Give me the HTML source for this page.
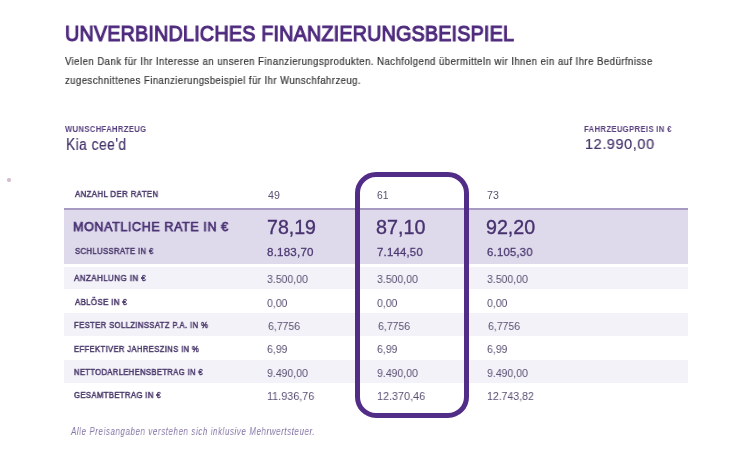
<!DOCTYPE html>
<html><head><meta charset="utf-8">
<style>
html,body{margin:0;padding:0;background:#fff;width:754px;height:468px;overflow:hidden;position:relative;font-family:"Liberation Sans",sans-serif;}
.t{position:absolute;white-space:nowrap;transform-origin:0 0;line-height:1;will-change:transform;}
.title{font-size:22.6px;color:#4f2b7e;font-weight:normal;-webkit-text-stroke:1.15px #4f2b7e;letter-spacing:0.2px;}
.body{font-size:10.2px;color:#363636;letter-spacing:0.5px;-webkit-text-stroke:0.2px #363636;}
.lab{font-size:8.4px;color:#58407f;font-weight:bold;letter-spacing:0.4px;}
.big{font-size:15.6px;color:#44346b;-webkit-text-stroke:0.2px #44346b;letter-spacing:0.6px;}
.price{font-size:14.8px;}
.row{position:absolute;left:64px;width:624px;}
.tl{font-size:8.6px;color:#4b3b6c;font-weight:normal;-webkit-text-stroke:0.5px #4b3b6c;letter-spacing:0.45px;}
.mon{font-size:13.6px;color:#4a3474;font-weight:normal;-webkit-text-stroke:0.75px #4a3474;letter-spacing:0.6px;}
.v{font-size:11.6px;color:#594f72;}
.bv{font-size:19.5px;color:#47326f;-webkit-text-stroke:0.35px #47326f;}
.sv{font-size:11.4px;color:#4b3a70;font-weight:normal;-webkit-text-stroke:0.28px #4b3a70;letter-spacing:0.2px;}
.hv{font-size:10px;color:#5a5072;}
.box{position:absolute;left:355px;top:172px;width:114px;height:246px;box-sizing:border-box;border:5px solid #522d88;border-radius:21px;}
.foot{font-size:10.2px;color:#8676a6;font-style:italic;letter-spacing:0.75px;}
</style></head><body>
<div style="position:absolute;left:7px;top:178px;width:4px;height:4px;border-radius:50%;background:#d3c0cf;box-shadow:0 0 1px #e0d0dc;"></div>
<div class="row" style="top:208px;height:2px;background:#a89bc1;"></div>
<div class="row" style="top:210px;height:54px;background:#dfd9ec;"></div>
<div class="row" style="top:267px;height:22px;background:#f4f2f9;"></div>
<div class="row" style="top:313px;height:23px;background:#f4f2f9;"></div>
<div class="row" style="top:360px;height:23px;background:#f4f2f9;"></div>
<div id="title" class="t title" style="left:65.36px;top:22.52px;transform:scaleX(0.8750);">UNVERBINDLICHES FINANZIERUNGSBEISPIEL</div>
<div id="body1" class="t body" style="left:65.24px;top:56.93px;transform:scaleX(0.9371);">Vielen Dank für Ihr Interesse an unseren Finanzierungsprodukten. Nachfolgend übermitteln wir Ihnen ein auf Ihre Bedürfnisse</div>
<div id="body2" class="t body" style="left:64.84px;top:76.02px;transform:scaleX(0.9343);">zugeschnittenes Finanzierungsbeispiel für Ihr Wunschfahrzeug.</div>
<div id="lab1" class="t lab" style="left:65.36px;top:124.70px;transform:scaleX(0.9109);">WUNSCHFAHRZEUG</div>
<div id="kia" class="t big" style="left:66.36px;top:137.16px;transform:scaleX(0.8764);">Kia cee'd</div>
<div id="lab2" class="t lab" style="left:583.58px;top:125.27px;transform:scaleX(0.9141);">FAHRZEUGPREIS IN €</div>
<div id="price" class="t big price" style="left:585.41px;top:136.65px;transform:scaleX(0.9775);">12.990,00</div>
<div id="l_anz" class="t tl" style="left:74.86px;top:189.90px;transform:scaleX(0.9059);">ANZAHL DER RATEN</div>
<div id="h1" class="t hv" style="left:267.53px;top:191.17px;transform:scaleX(1.0646);">49</div>
<div id="h2" class="t hv" style="left:376.77px;top:191.17px;transform:scaleX(1.0289);">61</div>
<div id="h3" class="t hv" style="left:487.04px;top:191.17px;transform:scaleX(1.0646);">73</div>
<div id="l_mon" class="t mon" style="left:73.44px;top:219.73px;transform:scaleX(0.9273);">MONATLICHE RATE IN €</div>
<div id="m1" class="t bv" style="left:266.97px;top:217.71px;transform:scaleX(1.0034);">78,19</div>
<div id="m2" class="t bv" style="left:376.27px;top:217.71px;transform:scaleX(1.0125);">87,10</div>
<div id="m3" class="t bv" style="left:486.38px;top:217.71px;transform:scaleX(1.0085);">92,20</div>
<div id="l_sch" class="t tl" style="left:74.70px;top:246.83px;transform:scaleX(0.8905);">SCHLUSSRATE IN €</div>
<div id="s1" class="t sv" style="left:266.61px;top:246.84px;transform:scaleX(1.0161);">8.183,70</div>
<div id="s2" class="t sv" style="left:377.42px;top:246.84px;transform:scaleX(0.9973);">7.144,50</div>
<div id="s3" class="t sv" style="left:486.99px;top:246.84px;transform:scaleX(0.9951);">6.105,30</div>
<div id="l_anzz" class="t tl" style="left:74.22px;top:273.97px;transform:scaleX(0.9304);">ANZAHLUNG IN €</div>
<div id="a1" class="t v" style="left:267.32px;top:272.61px;transform:scaleX(0.9053);">3.500,00</div>
<div id="a2" class="t v" style="left:377.12px;top:272.61px;transform:scaleX(0.9053);">3.500,00</div>
<div id="a3" class="t v" style="left:487.32px;top:272.61px;transform:scaleX(0.9053);">3.500,00</div>
<div id="l_abl" class="t tl" style="left:74.86px;top:298.11px;transform:scaleX(0.9075);">ABLÖSE IN €</div>
<div id="b1" class="t v" style="left:267.24px;top:297.18px;transform:scaleX(0.9053);">0,00</div>
<div id="b2" class="t v" style="left:377.04px;top:297.18px;transform:scaleX(0.9053);">0,00</div>
<div id="b3" class="t v" style="left:487.24px;top:297.18px;transform:scaleX(0.9053);">0,00</div>
<div id="l_fes" class="t tl" style="left:73.90px;top:320.57px;transform:scaleX(0.8902);">FESTER SOLLZINSSATZ P.A. IN %</div>
<div id="c1" class="t v" style="left:267.79px;top:320.46px;transform:scaleX(0.9053);">6,7756</div>
<div id="c2" class="t v" style="left:377.59px;top:320.46px;transform:scaleX(0.9053);">6,7756</div>
<div id="c3" class="t v" style="left:487.79px;top:320.46px;transform:scaleX(0.9053);">6,7756</div>
<div id="l_eff" class="t tl" style="left:74.06px;top:344.62px;transform:scaleX(0.8836);">EFFEKTIVER JAHRESZINS IN %</div>
<div id="d1" class="t v" style="left:267.20px;top:343.39px;transform:scaleX(0.9053);">6,99</div>
<div id="d2" class="t v" style="left:377.00px;top:343.39px;transform:scaleX(0.9053);">6,99</div>
<div id="d3" class="t v" style="left:487.20px;top:343.39px;transform:scaleX(0.9053);">6,99</div>
<div id="l_net" class="t tl" style="left:74.22px;top:368.06px;transform:scaleX(0.8819);">NETTODARLEHENSBETRAG IN €</div>
<div id="e1" class="t v" style="left:267.28px;top:366.89px;transform:scaleX(0.9053);">9.490,00</div>
<div id="e2" class="t v" style="left:377.08px;top:366.89px;transform:scaleX(0.9053);">9.490,00</div>
<div id="e3" class="t v" style="left:487.28px;top:366.89px;transform:scaleX(0.9053);">9.490,00</div>
<div id="l_ges" class="t tl" style="left:74.38px;top:390.79px;transform:scaleX(0.8926);">GESAMTBETRAG IN €</div>
<div id="f1" class="t v" style="left:267.11px;top:389.99px;transform:scaleX(0.9314);">11.936,76</div>
<div id="f2" class="t v" style="left:376.91px;top:389.99px;transform:scaleX(0.9314);">12.370,46</div>
<div id="f3" class="t v" style="left:487.12px;top:390.00px;transform:scaleX(0.9062);">12.743,82</div>
<div id="foot" class="t foot" style="left:70.76px;top:426.73px;transform:scaleX(0.7812);">Alle Preisangaben verstehen sich inklusive Mehrwertsteuer.</div>
<div class="box"></div>
</body></html>
